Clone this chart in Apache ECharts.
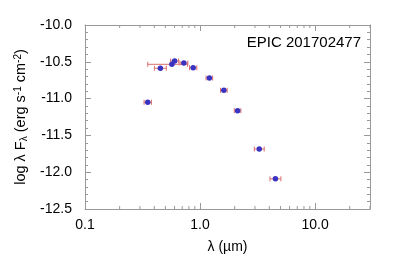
<!DOCTYPE html>
<html><head><meta charset="utf-8">
<script src="https://cdn.jsdelivr.net/npm/echarts@6/dist/echarts.min.js"></script>
<style>html,body{margin:0;padding:0;background:#fff}#c{width:395px;height:263px}</style>
</head><body><div id="c"></div>
<script>
// Data (wavelength in micron, log lambda F_lambda)
const wavelength = [0.351, 0.452, 0.569, 0.601, 0.723, 0.871, 1.205, 1.61, 2.12, 3.27, 4.52];
const logFlux   = [-11.05, -10.588, -10.534, -10.489, -10.516, -10.58, -10.72, -10.887, -11.164, -11.685, -12.09];
const wlLow     = [0.326, 0.401, 0.351, 0.555, 0.668, 0.81, 1.128, 1.507, 1.985, 2.962, 4.05];
const wlHigh    = [0.378, 0.509, 0.778, 0.651, 0.783, 0.937, 1.287, 1.72, 2.264, 3.61, 5.04];
const xMinorTicks = [0.2,0.3,0.4,0.5,0.6,0.7,0.8,0.9,2,3,4,5,6,7,8,9,20,30];
const title = 'EPIC 201702477';

const FONT = 'Liberation Sans, Arial, Helvetica, sans-serif';
const AX = '#999999';
const YMIN = -12.5, YMAX = -10.0;

const chart = echarts.init(document.getElementById('c'), null, {renderer:'canvas'});

const errData = wavelength.map((w,i)=>[w, logFlux[i], wlLow[i], wlHigh[i]]);
const pts = wavelength.map((w,i)=>[w, logFlux[i]]);

const axisCommon = {
  axisLine:{show:true, lineStyle:{color:AX, width:1}},
  splitLine:{show:false}
};

chart.setOption({
  animation:false,
  grid:{left:85, right:25, top:25, bottom:54, containLabel:false},
  title:{text:title, right:29, top:30, textStyle:{fontFamily:FONT, fontSize:15, fontWeight:'normal', color:'#000'}},
  xAxis:[{
    type:'log', logBase:10, min:0.1, max:30, position:'bottom',
    ...axisCommon,
    axisTick:{show:true, inside:true, length:6, lineStyle:{color:AX}},
    axisLabel:{show:true, margin:9, fontFamily:FONT, fontSize:14, color:'#000', showMaxLabel:false,
      formatter:v=>Number(v).toFixed(1)},
    name:'λ (µm)', nameLocation:'middle', nameGap:31,
    nameTextStyle:{fontFamily:FONT, fontSize:14, color:'#000'}
  },{
    type:'log', logBase:10, min:0.1, max:30, position:'top',
    ...axisCommon,
    axisTick:{show:true, inside:true, length:6, lineStyle:{color:AX}},
    axisLabel:{show:false}
  }],
  yAxis:[{
    type:'value', min:YMIN, max:YMAX, interval:0.5, position:'left',
    ...axisCommon,
    axisTick:{show:true, inside:true, length:6, lineStyle:{color:AX}},
    minorTick:{show:true, splitNumber:5, length:3, lineStyle:{color:AX}},
    axisLabel:{show:true, margin:13, fontFamily:FONT, fontSize:14, color:'#000', formatter:v=>v.toFixed(1)},
    name:'log λ F{sub|λ} (erg s{sup|-1} cm{sup|-2})', nameLocation:'middle', nameGap:48, nameRotate:90,
    nameTextStyle:{fontFamily:FONT, fontSize:14.5, color:'#000',
      rich:{sub:{fontFamily:FONT, fontSize:10, verticalAlign:'bottom', padding:[6,0,0,0]},
            sup:{fontFamily:FONT, fontSize:10, verticalAlign:'top', padding:[0,0,6,0]}}}
  },{
    type:'value', min:YMIN, max:YMAX, interval:0.5, position:'right',
    ...axisCommon,
    axisTick:{show:true, inside:true, length:6, lineStyle:{color:AX}},
    minorTick:{show:true, splitNumber:5, length:3, lineStyle:{color:AX}},
    axisLabel:{show:false}
  }],
  series:[
    { // minor log ticks on bottom and top
      type:'custom', silent:true, z:1,
      data:xMinorTicks.map(v=>[v]),
      renderItem:(params, api)=>{
        const b = api.coord([api.value(0), YMIN]);
        const t = api.coord([api.value(0), YMAX]);
        return {type:'group', children:[
          {type:'line', shape:{x1:b[0], y1:b[1], x2:b[0], y2:b[1]-3}, style:{stroke:AX, lineWidth:1}},
          {type:'line', shape:{x1:t[0], y1:t[1], x2:t[0], y2:t[1]+3}, style:{stroke:AX, lineWidth:1}}
        ]};
      }
    },
    { // horizontal error bars
      type:'custom', silent:true, z:2,
      data:errData,
      renderItem:(params, api)=>{
        const y = api.value(1);
        const a = api.coord([api.value(2), y]);
        const b = api.coord([api.value(3), y]);
        const st = {stroke:'#d9706f', lineWidth:1};
        return {type:'group', children:[
          {type:'line', shape:{x1:a[0], y1:a[1], x2:b[0], y2:b[1]}, style:st},
          {type:'line', shape:{x1:a[0], y1:a[1]-2.5, x2:a[0], y2:a[1]+2.5}, style:st},
          {type:'line', shape:{x1:b[0], y1:b[1]-2.5, x2:b[0], y2:b[1]+2.5}, style:st}
        ]};
      }
    },
    {
      type:'scatter', z:3, data:pts, symbol:'circle', symbolSize:5.5,
      itemStyle:{color:'#3a32c0', opacity:1}
    }
  ]
});
</script></body></html>
